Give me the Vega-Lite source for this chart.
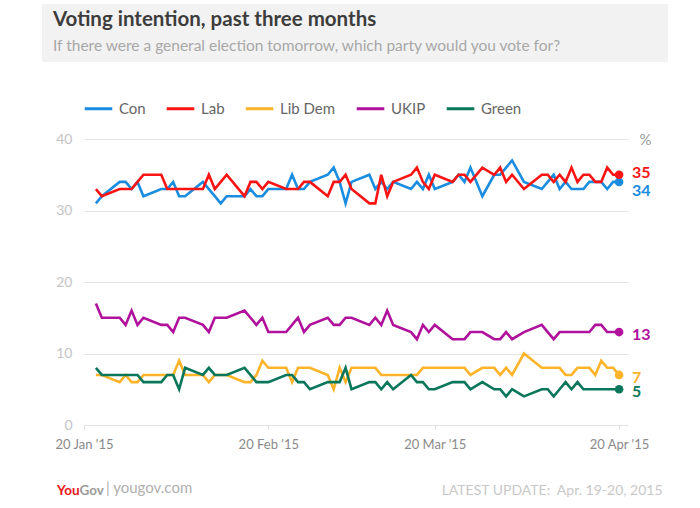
{
  "$schema": "https://vega.github.io/schema/vega-lite/v6.json",
  "background": "white",
  "padding": {"left": 42, "top": 4, "right": 0, "bottom": 0},
  "bounds": "flush",
  "spacing": 77,
  "config": {
    "font": "Lato",
    "view": {"stroke": null},
    "axis": {"labelFont": "Lato", "titleFont": "Lato"},
    "legend": {"labelFont": "Lato"},
    "title": {"font": "Lato", "subtitleFont": "Lato"}
  },
  "vconcat": [
    {
      "width": 626,
      "height": 58,
      "view": {"fill": "#f2f2f2", "stroke": null},
      "title": {
        "text": "Voting intention, past three months",
        "subtitle": "If there were a general election tomorrow, which party would you vote for?",
        "anchor": "start",
        "frame": "group",
        "orient": "top",
        "offset": -50,
        "dx": 11,
        "fontSize": 20.5,
        "fontWeight": "bold",
        "color": "#3d3d3d",
        "subtitleFontSize": 15.5,
        "subtitleColor": "#a8a8a8",
        "subtitlePadding": 8
      },
      "data": {"values": [{}]},
      "mark": {"type": "text"},
      "encoding": {"text": {"value": ""}}
    },
    {
      "width": 626,
      "height": 286,
      "title": {
        "text": "| yougov.com",
        "orient": "bottom",
        "anchor": "start",
        "frame": "group",
        "dx": 64,
        "offset": -9,
        "baseline": "middle",
        "fontSize": 15,
        "fontWeight": "normal",
        "color": "#b0b0b0"
      },
      "data": {
        "values": [
          {"date": "2015-01-22", "Con": 31, "Lab": 33, "Lib Dem": 7, "UKIP": 17, "Green": 8},
          {"date": "2015-01-23", "Con": 32, "Lab": 32, "Lib Dem": 7, "UKIP": 15, "Green": 7},
          {"date": "2015-01-26", "Con": 34, "Lab": 33, "Lib Dem": 6, "UKIP": 15, "Green": 7},
          {"date": "2015-01-27", "Con": 34, "Lab": 33, "Lib Dem": 7, "UKIP": 14, "Green": 7},
          {"date": "2015-01-28", "Con": 33, "Lab": 33, "Lib Dem": 6, "UKIP": 16, "Green": 7},
          {"date": "2015-01-29", "Con": 34, "Lab": 34, "Lib Dem": 6, "UKIP": 14, "Green": 7},
          {"date": "2015-01-30", "Con": 32, "Lab": 35, "Lib Dem": 7, "UKIP": 15, "Green": 6},
          {"date": "2015-02-02", "Con": 33, "Lab": 35, "Lib Dem": 7, "UKIP": 14, "Green": 6},
          {"date": "2015-02-03", "Con": 33, "Lab": 33, "Lib Dem": 7, "UKIP": 14, "Green": 7},
          {"date": "2015-02-04", "Con": 34, "Lab": 33, "Lib Dem": 7, "UKIP": 13, "Green": 7},
          {"date": "2015-02-05", "Con": 32, "Lab": 33, "Lib Dem": 9, "UKIP": 15, "Green": 5},
          {"date": "2015-02-06", "Con": 32, "Lab": 33, "Lib Dem": 7, "UKIP": 15, "Green": 8},
          {"date": "2015-02-09", "Con": 34, "Lab": 33, "Lib Dem": 7, "UKIP": 14, "Green": 7},
          {"date": "2015-02-10", "Con": 33, "Lab": 35, "Lib Dem": 6, "UKIP": 13, "Green": 8},
          {"date": "2015-02-11", "Con": 32, "Lab": 33, "Lib Dem": 7, "UKIP": 15, "Green": 7},
          {"date": "2015-02-12", "Con": 31, "Lab": 34, "Lib Dem": 7, "UKIP": 15, "Green": 7},
          {"date": "2015-02-13", "Con": 32, "Lab": 35, "Lib Dem": 7, "UKIP": 15, "Green": 7},
          {"date": "2015-02-16", "Con": 32, "Lab": 32, "Lib Dem": 6, "UKIP": 16, "Green": 8},
          {"date": "2015-02-17", "Con": 33, "Lab": 34, "Lib Dem": 6, "UKIP": 15, "Green": 7},
          {"date": "2015-02-18", "Con": 32, "Lab": 34, "Lib Dem": 7, "UKIP": 14, "Green": 6},
          {"date": "2015-02-19", "Con": 32, "Lab": 33, "Lib Dem": 9, "UKIP": 15, "Green": 6},
          {"date": "2015-02-20", "Con": 33, "Lab": 34, "Lib Dem": 8, "UKIP": 13, "Green": 6},
          {"date": "2015-02-23", "Con": 33, "Lab": 33, "Lib Dem": 8, "UKIP": 13, "Green": 7},
          {"date": "2015-02-24", "Con": 35, "Lab": 33, "Lib Dem": 6, "UKIP": 14, "Green": 7},
          {"date": "2015-02-25", "Con": 33, "Lab": 33, "Lib Dem": 8, "UKIP": 15, "Green": 6},
          {"date": "2015-02-26", "Con": 33, "Lab": 34, "Lib Dem": 8, "UKIP": 13, "Green": 6},
          {"date": "2015-02-27", "Con": 34, "Lab": 34, "Lib Dem": 8, "UKIP": 14, "Green": 5},
          {"date": "2015-03-02", "Con": 35, "Lab": 32, "Lib Dem": 7, "UKIP": 15, "Green": 6},
          {"date": "2015-03-03", "Con": 36, "Lab": 34, "Lib Dem": 5, "UKIP": 14, "Green": 6},
          {"date": "2015-03-04", "Con": 34, "Lab": 34, "Lib Dem": 8, "UKIP": 14, "Green": 6},
          {"date": "2015-03-05", "Con": 31, "Lab": 35, "Lib Dem": 6, "UKIP": 15, "Green": 8},
          {"date": "2015-03-06", "Con": 34, "Lab": 33, "Lib Dem": 8, "UKIP": 15, "Green": 5},
          {"date": "2015-03-09", "Con": 35, "Lab": 31, "Lib Dem": 8, "UKIP": 14, "Green": 6},
          {"date": "2015-03-10", "Con": 33, "Lab": 31, "Lib Dem": 8, "UKIP": 15, "Green": 6},
          {"date": "2015-03-11", "Con": 34, "Lab": 35, "Lib Dem": 7, "UKIP": 14, "Green": 5},
          {"date": "2015-03-12", "Con": 33, "Lab": 32, "Lib Dem": 7, "UKIP": 16, "Green": 6},
          {"date": "2015-03-13", "Con": 34, "Lab": 34, "Lib Dem": 7, "UKIP": 14, "Green": 5},
          {"date": "2015-03-16", "Con": 33, "Lab": 35, "Lib Dem": 7, "UKIP": 13, "Green": 7},
          {"date": "2015-03-17", "Con": 34, "Lab": 36, "Lib Dem": 7, "UKIP": 12, "Green": 6},
          {"date": "2015-03-18", "Con": 33, "Lab": 34, "Lib Dem": 8, "UKIP": 14, "Green": 6},
          {"date": "2015-03-19", "Con": 35, "Lab": 33, "Lib Dem": 8, "UKIP": 13, "Green": 5},
          {"date": "2015-03-20", "Con": 33, "Lab": 35, "Lib Dem": 8, "UKIP": 14, "Green": 5},
          {"date": "2015-03-23", "Con": 34, "Lab": 34, "Lib Dem": 8, "UKIP": 12, "Green": 6},
          {"date": "2015-03-24", "Con": 35, "Lab": 35, "Lib Dem": 8, "UKIP": 12, "Green": 6},
          {"date": "2015-03-25", "Con": 34, "Lab": 35, "Lib Dem": 8, "UKIP": 12, "Green": 6},
          {"date": "2015-03-26", "Con": 36, "Lab": 34, "Lib Dem": 7, "UKIP": 13, "Green": 5},
          {"date": "2015-03-28", "Con": 32, "Lab": 36, "Lib Dem": 8, "UKIP": 13, "Green": 6},
          {"date": "2015-03-30", "Con": 35, "Lab": 35, "Lib Dem": 8, "UKIP": 12, "Green": 5},
          {"date": "2015-03-31", "Con": 35, "Lab": 36, "Lib Dem": 7, "UKIP": 12, "Green": 5},
          {"date": "2015-04-01", "Con": 36, "Lab": 34, "Lib Dem": 8, "UKIP": 13, "Green": 4},
          {"date": "2015-04-02", "Con": 37, "Lab": 35, "Lib Dem": 7, "UKIP": 12, "Green": 5},
          {"date": "2015-04-04", "Con": 34, "Lab": 33, "Lib Dem": 10, "UKIP": 13, "Green": 4},
          {"date": "2015-04-07", "Con": 33, "Lab": 35, "Lib Dem": 8, "UKIP": 14, "Green": 5},
          {"date": "2015-04-08", "Con": 34, "Lab": 35, "Lib Dem": 8, "UKIP": 13, "Green": 5},
          {"date": "2015-04-09", "Con": 35, "Lab": 34, "Lib Dem": 8, "UKIP": 12, "Green": 4},
          {"date": "2015-04-10", "Con": 33, "Lab": 35, "Lib Dem": 8, "UKIP": 13, "Green": 5},
          {"date": "2015-04-11", "Con": 34, "Lab": 34, "Lib Dem": 7, "UKIP": 13, "Green": 6},
          {"date": "2015-04-12", "Con": 33, "Lab": 36, "Lib Dem": 7, "UKIP": 13, "Green": 5},
          {"date": "2015-04-13", "Con": 33, "Lab": 34, "Lib Dem": 8, "UKIP": 13, "Green": 6},
          {"date": "2015-04-14", "Con": 33, "Lab": 35, "Lib Dem": 8, "UKIP": 13, "Green": 5},
          {"date": "2015-04-15", "Con": 34, "Lab": 35, "Lib Dem": 8, "UKIP": 13, "Green": 5},
          {"date": "2015-04-16", "Con": 34, "Lab": 34, "Lib Dem": 7, "UKIP": 14, "Green": 5},
          {"date": "2015-04-17", "Con": 34, "Lab": 34, "Lib Dem": 9, "UKIP": 14, "Green": 5},
          {"date": "2015-04-18", "Con": 33, "Lab": 36, "Lib Dem": 8, "UKIP": 13, "Green": 5},
          {"date": "2015-04-19", "Con": 34, "Lab": 35, "Lib Dem": 8, "UKIP": 13, "Green": 5},
          {"date": "2015-04-20", "Con": 34, "Lab": 35, "Lib Dem": 7, "UKIP": 13, "Green": 5}
        ],
        "format": {"parse": {"date": "utc:'%Y-%m-%d'"}}
      },
      "transform": [
        {"fold": ["Con", "Lab", "Lib Dem", "UKIP", "Green"], "as": ["party", "value"]}
      ],
      "layer": [
        {
          "mark": {"type": "line", "strokeWidth": 2.6},
          "encoding": {
            "x": {
              "field": "date",
              "type": "temporal",
              "scale": {
                "type": "utc",
                "domain": [
                  {"year": 2015, "month": 1, "date": 20, "utc": true},
                  {"year": 2015, "month": 4, "date": 21, "hours": 12, "utc": true}
                ],
                "range": [42, 586]
              },
              "axis": {
                "values": [
                  {"year": 2015, "month": 1, "date": 20, "utc": true},
                  {"year": 2015, "month": 2, "date": 20, "utc": true},
                  {"year": 2015, "month": 3, "date": 20, "utc": true},
                  {"year": 2015, "month": 4, "date": 20, "utc": true}
                ],
                "format": "%d %b '%y",
                "labelFlush": false,
                "labelOverlap": false,
                "labelColor": "#8a8a8a",
                "labelFontSize": 13,
                "labelPadding": 9,
                "ticks": true,
                "tickSize": 4,
                "tickColor": "#dcdcdc",
                "domain": false,
                "grid": false,
                "title": "LATEST UPDATE:\u00a0 Apr. 19-20, 2015",
                "titleX": 620,
                "titleY": 65,
                "titleAlign": "right",
                "titleBaseline": "middle",
                "titleAngle": 0,
                "titleFontSize": 14,
                "titleFontWeight": "normal",
                "titleColor": "#c8c8c8"
              }
            },
            "y": {
              "field": "value",
              "type": "quantitative",
              "scale": {"domain": [0, 40], "nice": false, "zero": true},
              "axis": {
                "values": [0, 10, 20, 30, 40],
                "domain": false,
                "ticks": false,
                "grid": true,
                "gridColor": "#e3e3e3",
                "gridWidth": 1,
                "labelPadding": -30,
                "labelColor": "#c4c4c4",
                "labelFontSize": 14,
                "title": "%",
                "titleX": 603,
                "titleY": 0,
                "titleAngle": 0,
                "titleAlign": "center",
                "titleBaseline": "middle",
                "titleColor": "#9a9a9a",
                "titleFontSize": 15,
                "titleFontWeight": "normal"
              }
            },
            "color": {
              "field": "party",
              "type": "nominal",
              "scale": {
                "domain": ["Con", "Lab", "Lib Dem", "UKIP", "Green"],
                "range": ["#1a8de0", "#fa1414", "#fdb42b", "#b0129c", "#0b775a"]
              },
              "legend": {
                "orient": "none",
                "legendX": 41,
                "legendY": 89,
                "direction": "horizontal",
                "title": null,
                "symbolType": "stroke",
                "symbolSize": 760,
                "symbolStrokeWidth": 3,
                "labelFontSize": 15,
                "labelColor": "#666666",
                "labelOffset": 5,
                "columnPadding": 14
              }
            }
          }
        },
        {
          "transform": [{"filter": "time(datum.date) === utc(2015, 3, 20)"}],
          "mark": {"type": "point", "filled": true, "size": 75, "opacity": 1},
          "encoding": {
            "x": {
              "field": "date",
              "type": "temporal",
              "axis": {
                "orient": "top",
                "labels": false,
                "ticks": false,
                "domain": false,
                "grid": false,
                "title": "You",
                "titleX": 37,
                "titleY": 351,
                "titleAlign": "right",
                "titleBaseline": "middle",
                "titleAngle": 0,
                "titleColor": "#e8141a",
                "titleFontSize": 13.5,
                "titleFontWeight": "bold"
              }
            },
            "y": {
              "field": "value",
              "type": "quantitative",
              "axis": {
                "orient": "right",
                "labels": false,
                "ticks": false,
                "domain": false,
                "grid": false,
                "title": "Gov",
                "titleX": -589,
                "titleY": 351,
                "titleAlign": "left",
                "titleBaseline": "middle",
                "titleAngle": 0,
                "titleColor": "#9b9b9b",
                "titleFontSize": 13.5,
                "titleFontWeight": "bold"
              }
            },
            "color": {"field": "party", "type": "nominal", "legend": null}
          }
        },
        {
          "transform": [{"filter": "time(datum.date) === utc(2015, 3, 20) && datum.party === 'Con'"}],
          "mark": {"type": "text", "align": "left", "baseline": "middle", "dx": 13, "dy": 9, "fontSize": 16, "fontWeight": "bold"},
          "encoding": {
            "x": {"field": "date", "type": "temporal", "axis": null},
            "y": {"field": "value", "type": "quantitative", "axis": null},
            "text": {"field": "value", "type": "quantitative"},
            "color": {"field": "party", "type": "nominal", "legend": null}
          }
        },
        {
          "transform": [{"filter": "time(datum.date) === utc(2015, 3, 20) && datum.party === 'Lab'"}],
          "mark": {"type": "text", "align": "left", "baseline": "middle", "dx": 13, "dy": -2, "fontSize": 16, "fontWeight": "bold"},
          "encoding": {
            "x": {"field": "date", "type": "temporal", "axis": null},
            "y": {"field": "value", "type": "quantitative", "axis": null},
            "text": {"field": "value", "type": "quantitative"},
            "color": {"field": "party", "type": "nominal", "legend": null}
          }
        },
        {
          "transform": [{"filter": "time(datum.date) === utc(2015, 3, 20) && datum.party !== 'Con' && datum.party !== 'Lab'"}],
          "mark": {"type": "text", "align": "left", "baseline": "middle", "dx": 13, "dy": 3, "fontSize": 16, "fontWeight": "bold"},
          "encoding": {
            "x": {"field": "date", "type": "temporal", "axis": null},
            "y": {"field": "value", "type": "quantitative", "axis": null},
            "text": {"field": "value", "type": "quantitative"},
            "color": {"field": "party", "type": "nominal", "legend": null}
          }
        }
      ],
      "resolve": {"axis": {"x": "independent", "y": "independent"}}
    }
  ]
}
